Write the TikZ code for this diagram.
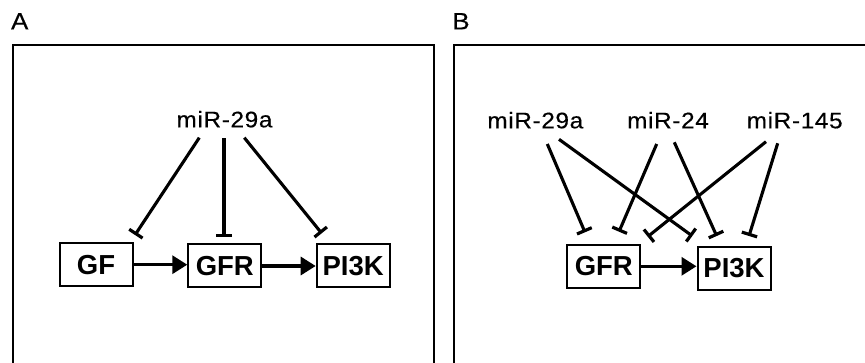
\documentclass[tikz,border=0pt]{standalone}
\usepackage{fontspec}
\setmainfont{Liberation Sans}
\newfontfamily\labelfont[FakeStretch=1.08,LetterSpace=3,FakeBold=0.4]{Liberation Sans}
\newfontfamily\panelfont[FakeStretch=1.1,FakeBold=0.3]{Liberation Sans}
\usetikzlibrary{arrows.meta}

\tikzset{
  frame/.style={line width=2.2pt},
  gene/.style={draw, line width=2pt, minimum width=73pt, minimum height=43pt,
    inner sep=0pt, font=\fontsize{27.5}{27.5}\selectfont\bfseries},
  mir/.style={anchor=base, inner sep=0pt, font=\labelfont\fontsize{22.5}{22.5}\selectfont},
  panel/.style={anchor=base, inner sep=0pt, font=\panelfont\fontsize{23.5}{23.5}\selectfont},
  inhib/.style={line width=3.1pt, -{Bar[width=16pt,line width=3.2pt]}},
  act/.style={line width=3.2pt, -{Triangle[length=15pt,width=18pt]}},
}

\begin{document}
\begin{tikzpicture}[x=1pt,y=-1pt]
\useasboundingbox (0,0) rectangle (865,363);
\begin{scope}
\clip (0,0) rectangle (865,363);

% panel frames, open towards the lower edge
\draw[frame] (13,380) -- (13,44.7) -- (434,44.7) -- (434,380);
\draw[frame] (454,380) -- (454,44.7) -- (880,44.7);

% ---------- panel A ----------
\node[panel] (labA) at (19.7,29.3) {A};
\node[mir] (mirA) at (224.5,127.3) {miR-29a};
\node[gene] (gfA)   at (96,264.7)  {GF};
\node[gene] (gfrA)  at (224.8,266) {GFR};
\node[gene] (pi3kA) at (353.2,266) {PI3K};

\coordinate (a1s) at (199.3,137.7); \coordinate (a1e) at (135,235);
\coordinate (a2s) at (224,138.3);   \coordinate (a2e) at (224,237.3);
\coordinate (a3s) at (244.3,137.7); \coordinate (a3e) at (321.7,233.3);
\draw[inhib] (a1s) -- (a1e);
\draw[inhib] (a2s) -- (a2e);
\draw[inhib] (a3s) -- (a3e);

\draw[act] (gfA.east) -- (gfA.east -| gfrA.west);
\draw[act] (gfrA.east) -- (gfrA.east -| pi3kA.west);

% ---------- panel B ----------
\node[panel] (labB) at (461,29.3) {B};
\node[mir] (mir29) at (535.3,128.3) {miR-29a};
\node[mir] (mir24) at (668,128.3) {miR-24};
\node[mir] (mir145) at (794.7,128.3) {miR-145};
\node[gene] (gfrB)  at (603.8,266.3) {GFR};
\node[gene] (pi3kB) at (734,268.5)   {PI3K};

\coordinate (b1s) at (547.3,144);   \coordinate (b1e) at (585,232.3);
\coordinate (b2s) at (559,139.3);   \coordinate (b2e) at (692.3,236);
\coordinate (b3s) at (656.7,144);   \coordinate (b3e) at (619,231.7);
\coordinate (b4s) at (674.3,142.3); \coordinate (b4e) at (716.7,236);
\coordinate (b5s) at (766,141.7);   \coordinate (b5e) at (647.7,236.7);
\coordinate (b6s) at (777.7,143.3); \coordinate (b6e) at (749,236);
\draw[inhib] (b1s) -- (b1e);
\draw[inhib] (b2s) -- (b2e);
\draw[inhib] (b3s) -- (b3e);
\draw[inhib] (b4s) -- (b4e);
\draw[inhib] (b5s) -- (b5e);
\draw[inhib] (b6s) -- (b6e);

\draw[act] (gfrB.east) -- (gfrB.east -| pi3kB.west);
\end{scope}
\end{tikzpicture}
\end{document}
